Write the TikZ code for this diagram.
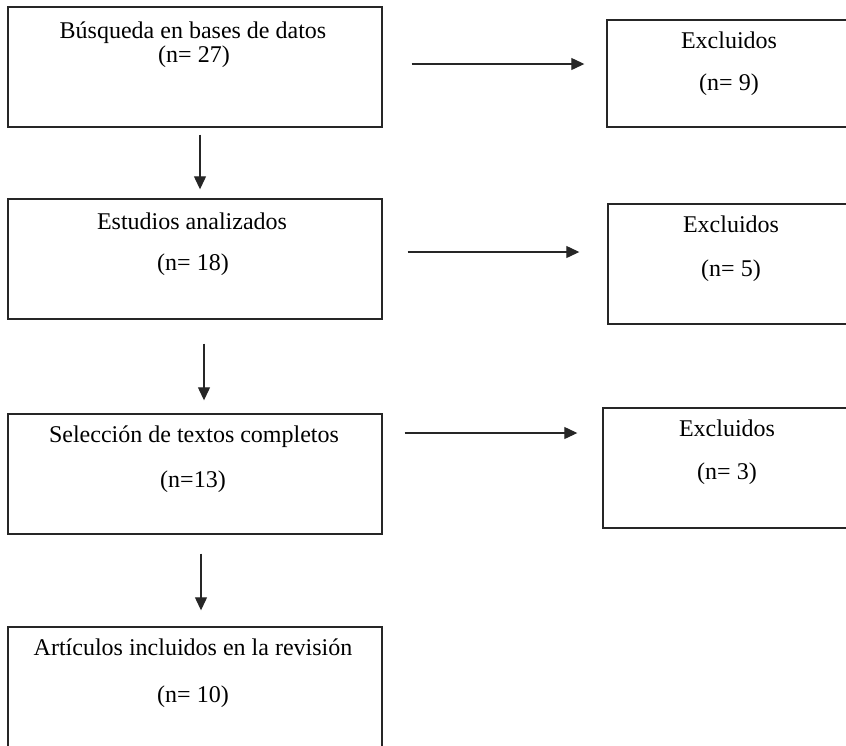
\documentclass[tikz,border=0pt]{standalone}
\usepackage{fontspec}
\setmainfont{Liberation Serif}
\usetikzlibrary{positioning,calc,arrows.meta}

\begin{document}
\begin{tikzpicture}[x=1pt, y=-1pt,
    caja/.style={draw=black!85, line width=1.4pt, rectangle, inner sep=0pt},
    texto/.style={anchor=base, inner sep=0pt, font=\fontsize{24}{28}\selectfont},
    flecha/.style={draw=black!85, line width=1.2pt, -{Triangle[length=13pt,width=12pt]}}]
      \useasboundingbox (0,0) rectangle (846,745);
      % left column
      \node[caja, minimum width=374pt, minimum height=120pt] (busq) at (195,67) {};
      \node[caja, minimum width=374pt, minimum height=120pt] (estu) at (195,259) {};
      \node[caja, minimum width=374pt, minimum height=120pt] (sele) at (195,474) {};
      \node[caja, minimum width=374pt, minimum height=124pt] (incl) at (195,689) {};
      % right column
      \node[caja, minimum width=245pt, minimum height=107pt] (excl1) at (729.5,73.5) {};
      \node[caja, minimum width=244pt, minimum height=120pt] (excl2) at (730,264) {};
      \node[caja, minimum width=249pt, minimum height=120pt] (excl3) at (727.5,468) {};
      % texts
      \node[texto] (busqA) at (193,38) {Búsqueda en bases de datos};
      \node[texto] (busqB) at (194,62) {(n= 27)};
      \node[texto] (estuA) at (192,229) {Estudios analizados};
      \node[texto] (estuB) at (193,270) {(n= 18)};
      \node[texto] (seleA) at (194,442) {Selección de textos completos};
      \node[texto] (seleB) at (193,487) {(n=13)};
      \node[texto] (inclA) at (193,655) {Artículos incluidos en la revisión};
      \node[texto] (inclB) at (193,702) {(n= 10)};
      \node[texto] (excl1A) at (729,48) {Excluidos};
      \node[texto] (excl1B) at (729,90) {(n= 9)};
      \node[texto] (excl2A) at (731,232) {Excluidos};
      \node[texto] (excl2B) at (731,276) {(n= 5)};
      \node[texto] (excl3A) at (727,436) {Excluidos};
      \node[texto] (excl3B) at (727,479) {(n= 3)};
      % arrows
      \coordinate (h1) at ($(busq.east)+(29,-3)$);
      \coordinate (h2) at ($(estu.east)+(25,-7)$);
      \coordinate (h3) at ($(sele.east)+(22,-41)$);
      \draw[flecha, shorten >=22pt] (h1) -- (h1 -| excl1.west);
      \draw[flecha, shorten >=28pt] (h2) -- (h2 -| excl2.west);
      \draw[flecha, shorten >=25pt] (h3) -- (h3 -| excl3.west);
      \coordinate (v1) at ($(busq.south)+(5,7)$);
      \coordinate (v2) at ($(estu.south)+(9,24)$);
      \coordinate (v3) at ($(sele.south)+(6,19)$);
      \draw[flecha, shorten >=9pt] (v1) -- (v1 |- estu.north);
      \draw[flecha, shorten >=13pt] (v2) -- (v2 |- sele.north);
      \draw[flecha, shorten >=16pt] (v3) -- (v3 |- incl.north);
\end{tikzpicture}
\end{document}
